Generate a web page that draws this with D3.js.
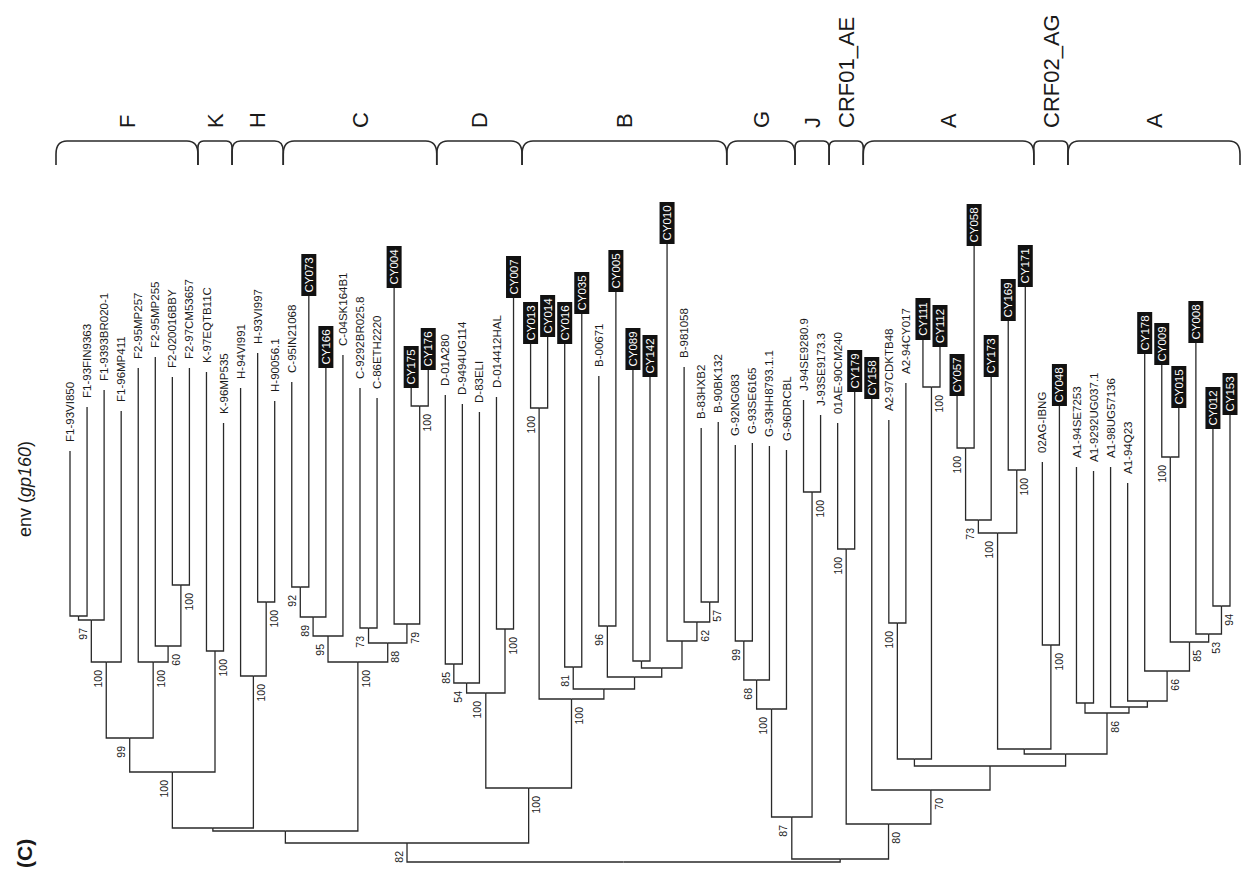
<!DOCTYPE html>
<html>
<head>
<meta charset="utf-8">
<script src="https://cdn.jsdelivr.net/npm/d3@7"></script>
<style>
  body { margin: 0; background: #fff; }
  svg { display: block; font-family: "Liberation Sans", Arial, Helvetica, sans-serif; }
  .branch { fill: none; stroke: #2a2a2a; stroke-width: 1.3; }
  .bracket { fill: none; stroke: #2a2a2a; stroke-width: 1.6; }
  .leaf-label { font-size: 11.5px; fill: #1a1a1a; }
  .boot { font-size: 10.5px; fill: #222; }
  .clade { font-size: 22px; fill: #1a1a1a; }
</style>
</head>
<body>
<div id="chart"></div>
<script>
// leaves in display order: [name, parent node, distance from root]
const leaves = [
  ["F1-93VI850", "F1b", 0.411], ["F1-93FIN9363", "F1b", 0.455],
  ["F1-9393BR020-1", "F1a", 0.472], ["F1-96MP411", "F1", 0.451],
  ["F2-95MP257", "F2", 0.494], ["F2-95MP255", "F2a", 0.505],
  ["F2-020016BBY", "F2b", 0.485], ["F2-97CM53657", "F2b", 0.494],
  ["K-97EQTB11C", "K", 0.490], ["K-96MP535", "K", 0.439],
  ["H-94VI991", "H", 0.474], ["H-93VI997", "Ha", 0.509], ["H-90056.1", "Ha", 0.461],
  ["C-95IN21068", "Cc", 0.480], ["CY073", "Cc", 0.566], ["CY166", "Cb", 0.494],
  ["C-04SK164B1", "Ca", 0.507], ["C-9292BR025.8", "Ce", 0.474],
  ["C-86ETH2220", "Ce", 0.464], ["CY004", "Cf", 0.574],
  ["CY175", "Cg", 0.474], ["CY176", "Cg", 0.492],
  ["D-01A280", "Db", 0.467], ["D-9494UG114", "Db", 0.458], ["D-83ELI", "Da", 0.450],
  ["D-014412HAL", "Dc", 0.465], ["CY007", "Dc", 0.564],
  ["CY013", "Ba", 0.518], ["CY014", "Ba", 0.525],
  ["CY016", "Bc", 0.518], ["CY035", "Bc", 0.548],
  ["B-00671", "Be", 0.486], ["CY005", "Be", 0.570],
  ["CY089", "Bg", 0.492], ["CY142", "Bg", 0.485],
  ["CY010", "Bh", 0.618], ["B-981058", "Bi", 0.495],
  ["B-83HXB2", "Bj", 0.434], ["B-90BK132", "Bj", 0.440],
  ["G-92NG083", "Gb", 0.417], ["G-93SE6165", "Gb", 0.419],
  ["G-93HH8793.1.1", "Ga", 0.416], ["G-96DRCBL", "G", 0.412],
  ["J-94SE9280.9", "J", 0.462], ["J-93SE9173.3", "J", 0.447],
  ["01AE-90CM240", "AE", 0.439], ["CY179", "AE", 0.470],
  ["CY158", "Aa", 0.463], ["A2-97CDKTB48", "A2", 0.442], ["A2-94CY017", "A2", 0.479],
  ["CY111", "Ad", 0.522], ["CY112", "Ad", 0.515],
  ["CY057", "Ai", 0.466], ["CY058", "Ai", 0.616], ["CY173", "Ah", 0.485],
  ["CY169", "Aj", 0.541], ["CY171", "Aj", 0.575],
  ["02AG-IBNG", "AG", 0.400], ["CY048", "AG", 0.456],
  ["A1-94SE7253", "A1a", 0.395], ["A1-9292UG037.1", "A1a", 0.391],
  ["A1-98UG57136", "A1b", 0.395], ["A1-94Q23", "A1c", 0.379],
  ["CY178", "A1d", 0.508], ["CY009", "A1f", 0.497], ["CY015", "A1f", 0.454],
  ["CY008", "A1g", 0.519], ["CY012", "A1h", 0.433], ["CY153", "A1h", 0.447]
];

// internal nodes: [id, parent, distance from root, bootstrap]
const internalNodes = [
  ["root", null, 0, null], ["L", "root", 0.019, 82],
  ["FKHC", "L", 0.031, null], ["FKH", "FKHC", 0.034, null],
  ["FK", "FKH", 0.090, 100], ["F", "FK", 0.124, 99],
  ["F1", "F", 0.200, 100], ["F1a", "F1", 0.242, 97], ["F1b", "F1a", 0.246, null],
  ["F2", "F", 0.200, 100], ["F2a", "F2", 0.216, 60], ["F2b", "F2a", 0.277, 100],
  ["K", "FK", 0.211, 100], ["H", "FKH", 0.186, 100], ["Ha", "H", 0.260, 100],
  ["C", "FKHC", 0.200, 100], ["Ca", "C", 0.226, 95], ["Cb", "Ca", 0.245, 89],
  ["Cc", "Cb", 0.275, 92], ["Cd", "C", 0.219, 88], ["Ce", "Cd", 0.234, 73],
  ["Cf", "Cd", 0.238, 79], ["Cg", "Cf", 0.456, 100],
  ["DB", "L", 0.074, 100], ["D", "DB", 0.169, 100], ["Da", "D", 0.179, 54],
  ["Db", "Da", 0.198, 85], ["Dc", "D", 0.233, 100],
  ["B", "DB", 0.163, 100], ["Ba", "B", 0.454, 100], ["Bb", "B", 0.173, null],
  ["Bc", "Bb", 0.195, 81], ["Bd", "Bb", 0.185, null], ["Be", "Bd", 0.236, 96],
  ["Bf", "Bd", 0.194, null], ["Bg", "Bf", 0.201, null], ["Bh", "Bf", 0.221, null],
  ["Bi", "Bh", 0.240, 62], ["Bj", "Bi", 0.260, 57],
  ["R", "root", 0.003, null], ["GJ", "R", 0.045, 87],
  ["G", "GJ", 0.153, 100], ["Ga", "G", 0.182, 68], ["Gb", "Ga", 0.221, 99],
  ["J", "GJ", 0.370, 100],
  ["AA", "R", 0.038, 80], ["AE", "AA", 0.313, 100], ["Aa", "AA", 0.072, 70],
  ["Ab", "Aa", 0.096, null], ["Ac", "Ab", 0.103, null],
  ["A2", "Ac", 0.239, 100], ["Ad", "Ac", 0.475, 100],
  ["Ae", "Ab", 0.108, null], ["Af", "Ae", 0.113, null],
  ["Ag", "Af", 0.329, 100], ["Ah", "Ag", 0.342, 73], ["Ai", "Ah", 0.414, 100],
  ["Aj", "Ag", 0.392, 100], ["AG", "Af", 0.217, 100],
  ["A1", "Ae", 0.149, 86], ["A1a", "A1", 0.159, null], ["A1b", "A1", 0.155, null],
  ["A1c", "A1b", 0.161, null], ["A1d", "A1c", 0.191, 66], ["A1e", "A1d", 0.220, 85],
  ["A1f", "A1e", 0.405, 100], ["A1g", "A1e", 0.228, 53], ["A1h", "A1g", 0.256, 94]
];

const cladeNames = ["F", "K", "H", "C", "D", "B", "G", "J", "CRF01_AE", "A", "CRF02_AG", "A"];
const cladeFirst = ["F1-93VI850", "K-97EQTB11C", "H-94VI991", "C-95IN21068", "D-01A280", "CY013",
  "G-92NG083", "J-94SE9280.9", "01AE-90CM240", "CY158", "02AG-IBNG", "A1-94SE7253"];
const cladeLast = ["F2-97CM53657", "K-96MP535", "H-90056.1", "CY176", "CY007", "B-90BK132",
  "G-96DRCBL", "J-93SE9173.3", "CY179", "CY171", "CY048", "CY153"];

const panelLabel = "(C)";
const geneName = "env";
const proteinName = "gp160";

const width = 1241, height = 878;

const svg = d3.select("#chart")
  .append("svg")
  .attr("width", width)
  .attr("height", height);

// build the hierarchy
const rows = internalNodes.map(d => ({id: d[0], parent: d[1], dist: d[2], support: d[3]}))
  .concat(leaves.map(d => ({id: d[0], parent: d[1], dist: d[2], support: null})));

const root = d3.stratify()
  .id(d => d.id)
  .parentId(d => d.parent)(rows);

const leafOrder = new Map(leaves.map((d, i) => [d[0], i]));
root.each(n => { n.first = d3.min(n.leaves(), l => leafOrder.get(l.id)); });
root.sort((a, b) => a.first - b.first);

d3.cluster().size([1, 1]).separation(() => 1)(root);

const tips = root.leaves();
const x = d3.scaleLinear()
  .domain(d3.extent(tips, d => d.x))
  .range([70, 1230]);
const y = d3.scaleLinear()
  .domain([0, 0.62])
  .range([862, 242]);

root.each(n => { n.px = x(n.x); n.py = y(n.data.dist); });

// branches
svg.append("g")
  .selectAll("path")
  .data(root.links())
  .join("path")
  .attr("class", "branch")
  .attr("d", l => "M" + l.source.px + "," + l.source.py +
    "H" + l.target.px + "V" + l.target.py);

// bootstrap values, on the side away from the parent
svg.append("g")
  .selectAll("text")
  .data(root.descendants().filter(n => n.data.support != null))
  .join("text")
  .attr("class", "boot")
  .attr("text-anchor", "end")
  .attr("dy", "0.35em")
  .attr("transform", n => {
    const side = n.parent && n.parent.px < n.px ? 1 : -1;
    return "translate(" + (n.px + side * 8) + "," + (n.py + 8) + ") rotate(-90)";
  })
  .text(n => n.data.support);

// leaf labels
const isStudy = name => name.startsWith("CY");
const boxW = 15, boxH = 42;

const leafG = svg.append("g")
  .selectAll("g")
  .data(tips)
  .join("g")
  .attr("transform", n => "translate(" + n.px + "," + n.py + ")");

leafG.filter(n => isStudy(n.id))
  .append("rect")
  .attr("x", -boxW / 2)
  .attr("y", -boxH)
  .attr("width", boxW)
  .attr("height", boxH)
  .attr("fill", "#111");

leafG.append("text")
  .attr("class", "leaf-label")
  .attr("dy", "0.35em")
  .attr("text-anchor", n => isStudy(n.id) ? "middle" : "start")
  .attr("transform", n => isStudy(n.id)
    ? "translate(0," + (-boxH / 2) + ") rotate(-90)"
    : "translate(0,-9) rotate(-90)")
  .style("fill", n => isStudy(n.id) ? "#fff" : null)
  .text(n => n.id);

// clade brackets
const leafX = new Map(tips.map(n => [n.id, n.px]));
const step = x(tips[1].x) - x(tips[0].x);
const bracketTop = 141, bracketBottom = 165;

const clades = cladeNames.map((name, i) => {
  const a = leafX.get(cladeFirst[i]), b = leafX.get(cladeLast[i]);
  const left = i === 0 ? a - 14 : a - step / 2;
  const right = i === cladeNames.length - 1 ? b + 10 : b + step / 2;
  return {name, left, right};
});

svg.append("g")
  .selectAll("path")
  .data(clades)
  .join("path")
  .attr("class", "bracket")
  .attr("d", c => {
    const r = Math.min(11, (c.right - c.left) / 6);
    return "M" + c.left + "," + bracketBottom +
      "V" + (bracketTop + r * 1.2) +
      "Q" + c.left + "," + bracketTop + " " + (c.left + r) + "," + bracketTop +
      "H" + (c.right - r) +
      "Q" + c.right + "," + bracketTop + " " + c.right + "," + (bracketTop + r * 1.2) +
      "V" + bracketBottom;
  });

svg.append("g")
  .selectAll("text")
  .data(clades)
  .join("text")
  .attr("class", "clade")
  .attr("dy", "0.35em")
  .attr("transform", c => "translate(" + ((c.left + c.right) / 2) + ",128) rotate(-90)")
  .text(c => c.name);

// panel and gene labels
svg.append("text")
  .attr("transform", "translate(25,537) rotate(-90)")
  .attr("dy", "0.35em")
  .style("font-size", "18px")
  .style("fill", "#1a1a1a")
  .call(t => {
    t.append("tspan").text(geneName + " (");
    t.append("tspan").style("font-style", "italic").text(proteinName);
    t.append("tspan").text(")");
  });

svg.append("text")
  .attr("transform", "translate(25,868) rotate(-90)")
  .attr("dy", "0.35em")
  .style("font-size", "21px")
  .style("font-weight", "bold")
  .style("fill", "#1a1a1a")
  .text(panelLabel);
</script>
</body>
</html>
